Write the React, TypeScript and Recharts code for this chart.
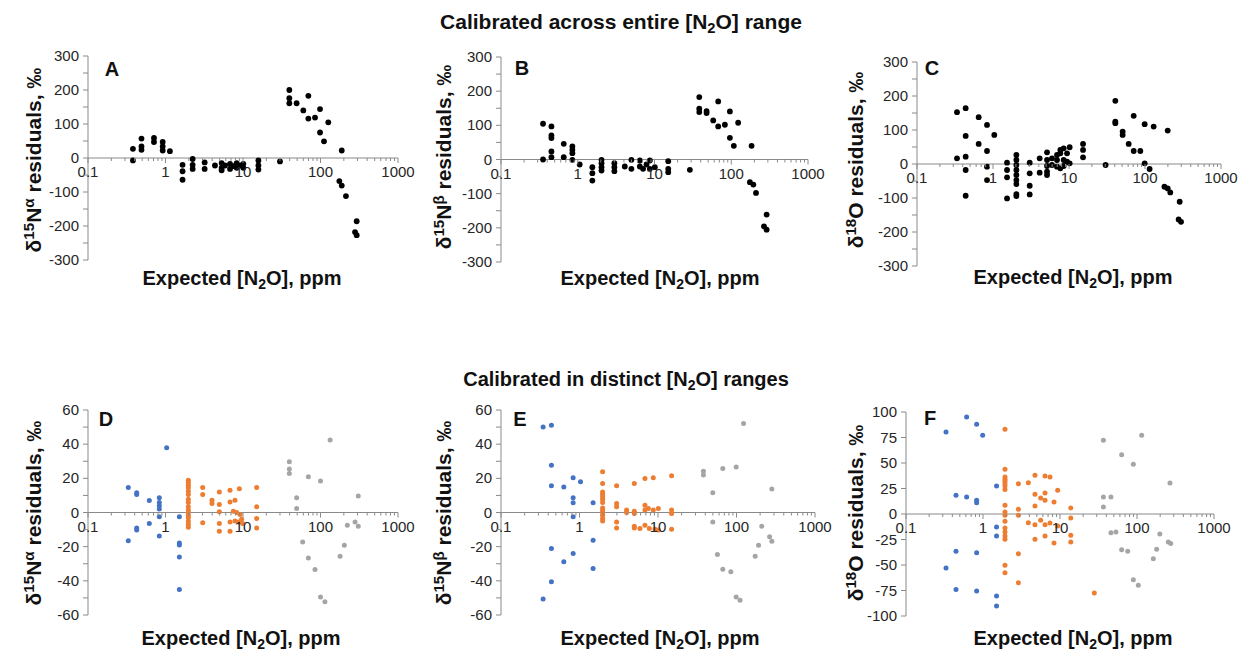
import React from 'react';
import { ReferenceLine, Scatter, ScatterChart, XAxis, YAxis } from 'recharts';

// [expected N2O ppm, residual ‰]
const panelA: [number, number][] = [
  [0.38, 27], [0.38, -7], [0.49, 57], [0.49, 34], [0.49, 24], [0.71, 59], [0.71, 47],
  [0.92, 47], [0.92, 34], [0.92, 22], [1.14, 20],
  [1.66, -20], [1.66, -39], [1.66, -64],
  [2.24, -3], [2.24, -20], [2.24, -32], [3.2, -13], [3.2, -32], [4.35, -22],
  [5.3, -15], [5.3, -29], [5.3, -36], [5.86, -22], [6.8, -17], [6.8, -32], [7.5, -24],
  [8.28, -15], [8.28, -29], [9.15, -22], [10.1, -17], [10.1, -29],
  [15.8, -7], [15.8, -22], [15.8, -34], [30, -10],
  [39.6, 200], [39.6, 176], [39.6, 161], [49.2, 161], [60, 140], [69.7, 183], [69.7, 116],
  [85, 119], [98.6, 144], [98.6, 75], [111, 49], [126, 105],
  [188, 22], [175, -68], [188, -81], [213, -112], [293, -186], [279, -218], [293, -227],
];

const panelB: [number, number][] = [
  [0.353, 104.6], [0.353, 0], [0.454, 96.8], [0.454, 70.4], [0.454, 62.6], [0.454, 23.5], [0.454, 6.8],
  [0.657, 45.9], [0.657, 6.8], [0.851, 38.1], [0.851, 28.3], [0.851, 18.6], [0.851, -1],
  [1.06, -14.7], [1.55, -22.5], [1.55, -40], [1.55, -61.6],
  [2.04, -1], [2.04, -10.8], [2.04, -22.5], [2.04, -32.3],
  [3.0, -10.8], [3.0, -22.5], [3.0, -34.2], [4.1, -20.5], [5.0, -1], [5.0, -27.4],
  [6.44, -2.9], [6.44, -20.5], [7.1, -27.4], [7.87, -14.7], [8.7, -2.9], [8.7, -27.4], [10.1, -22.5],
  [15.1, -4.9], [15.1, -27.4], [15.1, -37.1], [28.9, -30.3],
  [38.3, 182.8], [38.3, 148.6], [38.3, 138.8], [47.7, 141.7], [47.7, 135.9], [58.2, 114.4],
  [67.6, 170.1], [67.6, 96.8], [82.6, 101.7], [96, 140.8], [96, 63.5], [108, 40.1], [123, 107.5],
  [184, 40.1], [175, -66.5], [194, -73.3], [210, -97.8], [289, -161.3], [267, -195.5], [289, -205.3],
];

const panelC: [number, number][] = [
  [0.336, 152.4], [0.336, 16.7], [0.437, 164.2], [0.437, 82.6], [0.437, 21.6], [0.437, -17.7], [0.437, -93.4],
  [0.648, 137.7], [0.648, 59], [0.834, 115], [0.834, 38.3], [0.834, -7.9], [0.834, -47.2], [1.04, 85.5],
  [1.53, 3.9], [1.53, -17.7], [1.53, -39.3], [1.53, -101.3],
  [2.03, 26.5], [2.03, 11.8], [2.03, -2.9], [2.03, -17.7], [2.03, -32.4], [2.03, -47.2], [2.03, -59],
  [2.03, -88.5], [2.03, -94.4],
  [3.04, 3.9], [3.04, -27.5], [3.04, -63.9], [3.04, -89.5], [4.11, 16.7], [4.11, -25.6],
  [5.14, 34.4], [5.14, 11.8], [5.14, -5.9], [5.14, -22.6], [5.14, -32.4], [5.97, 16.7], [5.97, -2.9],
  [6.95, 26.5], [6.95, 11.8], [6.95, -7.9], [7.69, 41.3], [7.69, 31.5], [7.69, -12.8],
  [8.51, 46.2], [8.51, 11.8], [8.51, -5.9], [9.42, 31.5], [9.42, 6.9], [10.2, 49.2], [10.2, 2],
  [15.3, 59], [15.3, 41.3], [15.3, 19.7], [30.3, -2.9],
  [40.7, 185.8], [40.7, 124.9], [40.7, 120], [50.8, 95.4], [50.8, 85.5], [61, 59], [71, 141.6], [71, 38.3],
  [86.8, 38.3], [99, 117], [99, 2], [115, -14.7], [130, 110.1], [199, 98.3],
  [180, -66.9], [199, -71.8], [215, -83.6], [286, -111.1], [277, -163.2], [298, -170.1],
];

const panelDLow: [number, number][] = [
  [0.331, 14.6], [0.331, -16.6], [0.425, 11.5], [0.425, 10.5], [0.425, -9], [0.425, -10.3],
  [0.618, 7], [0.618, -6.4], [0.832, 8.6], [0.832, 5.9], [0.832, 3.9], [0.832, 2], [0.832, -2.5],
  [0.832, -13.7], [1.035, 37.9], [1.51, -2.5], [1.51, -17.8], [1.51, -19], [1.51, -26], [1.51, -45],
];
const panelDMid: [number, number][] = [
  [1.97, 18.9], [1.97, 17.6], [1.97, 16], [1.97, 14.5], [1.97, 12.5], [1.97, 10.5], [1.97, 7.8],
  [1.97, 5.9], [1.97, 3.3], [1.97, 1.4], [1.97, 0], [1.97, -1.6], [1.97, -3.1], [1.97, -5.1],
  [1.97, -7], [1.97, -8.6],
  [3.02, 14.6], [3.02, 10.5], [3.02, -6], [3.98, 7.2], [3.98, 5.3],
  [4.95, 12], [4.95, 4.7], [4.95, 0.4], [4.95, -6.4], [4.95, -11],
  [6.8, 13], [6.8, 6.2], [6.8, -5.5], [6.8, -11], [7.88, 7.2], [7.5, 0.8], [7.88, -5], [8.28, 0],
  [8.7, -5.5], [9.15, -1.2], [9.6, -3.9], [9.9, -6.4], [8.97, 13.9],
  [15, 14.6], [15, 3.3], [15, -3.5], [15, -9],
];
const panelDHigh: [number, number][] = [
  [39.6, 29.7], [39.6, 25.4], [39.6, 22.8], [49.2, 8.6], [49.2, 2.3], [58.9, -17.2], [69.7, 20.9],
  [69.7, -26.6], [85, -33.4], [100, 18.4], [100, -49.4], [114, -52.3], [133, 42.4], [179, -25.6],
  [203, -19.1], [222, -7.4], [279, -5.5], [307, 9.6], [307, -8],
];

const panelELow: [number, number][] = [
  [0.344, 50.1], [0.344, -50.7], [0.439, 51.1], [0.439, 27.7], [0.439, 15.6], [0.439, -21],
  [0.439, -40.6], [0.631, 15], [0.631, -28.9], [0.83, 20.3], [0.83, 8.6], [0.83, 5.7], [0.83, -2.5],
  [0.83, -24], [1.03, 18], [1.49, 5.7], [1.49, -16.2], [1.49, -32.8],
];
const panelEMid: [number, number][] = [
  [1.97, 23.8], [1.97, 17], [1.97, 12], [1.97, 10.7], [1.97, 9.2], [1.97, 7.8], [1.97, 5.9],
  [1.97, 2.7], [1.97, 1.4], [1.97, 0], [1.97, -1.6], [1.97, -3.5], [1.97, -5],
  [2.97, 15.6], [2.97, 5.3], [2.97, 3.3], [2.97, -5.5], [2.97, -9], [3.98, 1.4], [3.98, 0],
  [4.99, 17], [4.99, 0.8], [4.99, -0.6], [4.99, -8], [4.99, -9], [5.89, -9.4],
  [6.82, 19.9], [6.82, 4.3], [6.82, 1.4], [6.82, -7.4], [7.53, 2.3], [7.75, -9.4],
  [8.71, 20.3], [8.71, 1.4], [9.16, -9.8], [10.1, 2.3], [10.1, -10.3],
  [14.9, 21.5], [14.9, 1.4], [14.9, -0.6], [14.9, -9.8],
];
const panelEHigh: [number, number][] = [
  [37.9, 24.2], [37.9, 21.9], [49.9, 11.5], [49.9, -5.5], [57.1, -24.6], [66.9, -33.2], [66.9, 25.8],
  [84.7, -34.7], [99, 26.7], [99, -49.4], [111, -51.3], [123, 52.1], [173, -25.6], [191, -19.1],
  [210, -8], [264, -14.2], [282, -16.8], [282, 13.7],
];

const panelFLow: [number, number][] = [
  [0.331, 80.4], [0.446, 18.3], [0.446, -36.6], [0.446, -73.9], [0.331, -52.9], [0.613, 95],
  [0.613, 16.7], [0.827, 87.9], [0.827, 13.4], [0.827, 11.1], [0.827, -37.9], [0.827, -75.5],
  [0.99, 77.1], [1.5, 27.5], [1.5, -12.7], [1.5, -21.6], [1.5, -80.4], [1.5, -90.2],
];
const panelFMid: [number, number][] = [
  [1.93, 83], [1.93, 43.8], [1.93, 36.3], [1.93, 34], [1.93, 32], [1.93, 29.7], [1.93, 27.5],
  [1.93, 23.9], [1.93, 8.5], [1.93, 2], [1.93, -1.3], [1.93, -7.2], [1.93, -13.7], [1.93, -17.6],
  [1.93, -21.6], [1.93, -24.8], [1.93, -50.3], [1.93, -57.5],
  [2.88, 29.7], [2.88, 4.6], [2.88, -1.3], [2.88, -38.9], [2.88, -67.3], [3.88, 30.7], [3.88, -8.5],
  [4.73, 37.9], [4.73, 19.3], [4.73, 7.8], [4.73, -10.5], [4.73, -24.8], [5.61, 15.7], [5.61, -6.2],
  [6.39, 37.3], [6.39, 20.6], [6.39, 13.4], [6.39, -10.5], [6.39, -21.6], [7.41, 36.3], [7.41, -8.8],
  [8.36, 11.8], [8.36, -28.4], [9.33, 23.2], [9.33, -11.8],
  [13.8, 5.9], [13.8, -3.9], [13.8, -20.9], [13.8, -27.5], [27.9, -77.5],
];
const panelFHigh: [number, number][] = [
  [36.6, 72.2], [36.6, 16.7], [36.6, 6.9], [45.9, 16.7], [45.9, -18.3], [53.3, -17.6], [63.2, 58.2],
  [63.2, -35], [75.7, -36.6], [89.6, 48.7], [89.6, -64.4], [104, -69.9], [115, 77.1], [163, -43.8],
  [180, -34.6], [198, -19.6], [255, -27.5], [274, -29], [268, 30.4],
];

const xMajor = [0.1, 1, 10, 100, 1000];
const xMinor = [2, 3, 4, 5, 6, 7, 8, 9];
const xTickLabels = ['0.1', '1', '10', '100', '1000'];

const AXIS = '#8a8a8a';
const TEXT = '#262626';
const BLACK = '#000000';
const BLUE = '#4472c4';
const ORANGE = '#ed7d31';
const GRAY = '#a5a5a5';
const FONT = '"Liberation Sans", Arial, sans-serif';

const xTicks: number[] = [];
xMajor.forEach((m, i) => {
  xTicks.push(m);
  if (i < xMajor.length - 1) xMinor.forEach((k) => xTicks.push(+(m * k).toPrecision(3)));
});

type Series = { data: [number, number][]; color: string; r: number };

type PanelProps = {
  left: number;
  top: number;
  width: number;
  height: number;
  yMax: number;
  yLabelStep: number;
  yTickStep: number;
  series: Series[];
};

const YW = 56;
const MT = 8;
const MR = 20;
const XH = 10;

function Panel({ left, top, width, height, yMax, yLabelStep, yTickStep, series }: PanelProps) {
  const yTicks: number[] = [];
  for (let v = -yMax; v <= yMax + 1e-9; v += yTickStep) yTicks.push(+v.toFixed(3));
  const zeroY = MT + height / 2;

  // x axis sits on the zero line, so ticks are drawn there instead of at the bottom
  const XTick = (props: any) => {
    const v = props.payload.value;
    const idx = xMajor.findIndex((m) => Math.abs(m - v) < 1e-9);
    const major = idx >= 0;
    return (
      <g>
        <line x1={props.x} x2={props.x} y1={zeroY} y2={zeroY + (major ? 5 : 3)} stroke={AXIS} strokeWidth={1} />
        {major && (
          <text x={props.x} y={zeroY + 19} textAnchor="middle" fontSize={15} fontFamily={FONT} fill={TEXT}>
            {xTickLabels[idx]}
          </text>
        )}
      </g>
    );
  };

  const YTick = (props: any) => {
    const v = props.payload.value;
    const labelled = Math.abs(v / yLabelStep - Math.round(v / yLabelStep)) < 1e-6;
    return (
      <g>
        <line x1={YW - 5} x2={YW} y1={props.y} y2={props.y} stroke={AXIS} strokeWidth={1} />
        {labelled && (
          <text x={YW - 9} y={props.y + 5} textAnchor="end" fontSize={15} fontFamily={FONT} fill={TEXT}>
            {v}
          </text>
        )}
      </g>
    );
  };

  return (
    <div style={{ position: 'absolute', left: left - YW, top: top - MT }}>
      <ScatterChart
        width={YW + width + MR}
        height={MT + height + XH}
        margin={{ top: MT, right: MR, bottom: 0, left: 0 }}
      >
        <XAxis
          dataKey="x"
          type="number"
          scale="log"
          domain={[0.1, 1000]}
          ticks={xTicks}
          interval={0}
          height={XH}
          axisLine={false}
          tickLine={false}
          tick={XTick}
        />
        <YAxis
          dataKey="y"
          type="number"
          domain={[-yMax, yMax]}
          ticks={yTicks}
          interval={0}
          width={YW}
          axisLine={{ stroke: AXIS, strokeWidth: 1 }}
          tickLine={false}
          tick={YTick}
        />
        <ReferenceLine y={0} stroke={AXIS} strokeWidth={1} />
        {series.map((s, i) => (
          <Scatter
            key={i}
            data={s.data.map(([x, y]) => ({ x, y }))}
            isAnimationActive={false}
            shape={(p: any) => <circle cx={p.cx} cy={p.cy} r={s.r} fill={s.color} />}
          />
        ))}
      </ScatterChart>
    </div>
  );
}

const abs = (x: number, y: number): React.CSSProperties => ({
  position: 'absolute',
  left: x,
  top: y,
  transform: 'translate(-50%, -50%)',
  whiteSpace: 'nowrap',
  fontFamily: FONT,
  fontWeight: 'bold',
  color: '#111',
  lineHeight: 1,
});

const sup: React.CSSProperties = { fontSize: '0.72em', position: 'relative', top: '-0.45em' };
const sub: React.CSSProperties = { fontSize: '0.7em', position: 'relative', top: '0.25em' };

function YLabel({ x, y, iso, pos }: { x: number; y: number; iso: 'N' | 'O'; pos?: string }) {
  return (
    <div style={{ ...abs(x, y), fontSize: 21, transform: 'translate(-50%, -50%) rotate(-90deg)' }}>
      δ<span style={sup}>{iso === 'N' ? '15' : '18'}</span>
      {iso === 'N' ? 'N' : 'O'}
      {pos && <span style={sup}>{pos}</span>} residuals, ‰
    </div>
  );
}

function XLabel({ x, y }: { x: number; y: number }) {
  return (
    <div style={{ ...abs(x, y), fontSize: 20 }}>
      Expected [N<span style={sub}>2</span>O], ppm
    </div>
  );
}

function Letter({ x, y, t }: { x: number; y: number; t: string }) {
  return <div style={{ ...abs(x, y), fontSize: 20 }}>{t}</div>;
}

export default function App() {
  const black = (d: [number, number][]): Series[] => [{ data: d, color: BLACK, r: 2.9 }];
  const three = (lo: [number, number][], mid: [number, number][], hi: [number, number][]): Series[] => [
    { data: lo, color: BLUE, r: 2.5 },
    { data: mid, color: ORANGE, r: 2.5 },
    { data: hi, color: GRAY, r: 2.5 },
  ];

  return (
    <div style={{ position: 'absolute', left: 0, top: 0, width: 1241, height: 653, background: '#fff', overflow: 'hidden' }}>
      <div style={{ ...abs(621, 21), fontSize: 21, fontFamily: '"Liberation Sans Narrow", "Arial Narrow", ' + FONT }}>
        Calibrated across entire [N<span style={sub}>2</span>O] range
      </div>
      <div style={{ ...abs(626, 379), fontSize: 20 }}>
        Calibrated in distinct [N<span style={sub}>2</span>O] ranges
      </div>

      <Panel left={88} top={56} width={310} height={204} yMax={300} yLabelStep={100} yTickStep={50} series={black(panelA)} />
      <Panel left={501} top={57} width={307} height={205} yMax={300} yLabelStep={100} yTickStep={50} series={black(panelB)} />
      <Panel left={917} top={62} width={304} height={204} yMax={300} yLabelStep={100} yTickStep={50} series={black(panelC)} />
      <Panel left={88} top={410} width={310} height={205} yMax={60} yLabelStep={20} yTickStep={10} series={three(panelDLow, panelDMid, panelDHigh)} />
      <Panel left={501} top={410} width={314} height={205} yMax={60} yLabelStep={20} yTickStep={10} series={three(panelELow, panelEMid, panelEHigh)} />
      <Panel left={906} top={412} width={308} height={204} yMax={100} yLabelStep={25} yTickStep={25} series={three(panelFLow, panelFMid, panelFHigh)} />

      <Letter x={112} y={69} t="A" />
      <Letter x={522} y={68} t="B" />
      <Letter x={932} y={68} t="C" />
      <Letter x={106} y={419} t="D" />
      <Letter x={520} y={419} t="E" />
      <Letter x={930} y={418} t="F" />

      <YLabel x={33} y={160} iso="N" pos="α" />
      <YLabel x={443} y={157} iso="N" pos="β" />
      <YLabel x={855} y={160} iso="O" />
      <YLabel x={33} y={513} iso="N" pos="α" />
      <YLabel x={443} y={513} iso="N" pos="β" />
      <YLabel x={855} y={513} iso="O" />

      <XLabel x={242} y={278} />
      <XLabel x={660} y={278} />
      <XLabel x={1073} y={277} />
      <XLabel x={241} y={638} />
      <XLabel x={660} y={638} />
      <XLabel x={1073} y={638} />
    </div>
  );
}
